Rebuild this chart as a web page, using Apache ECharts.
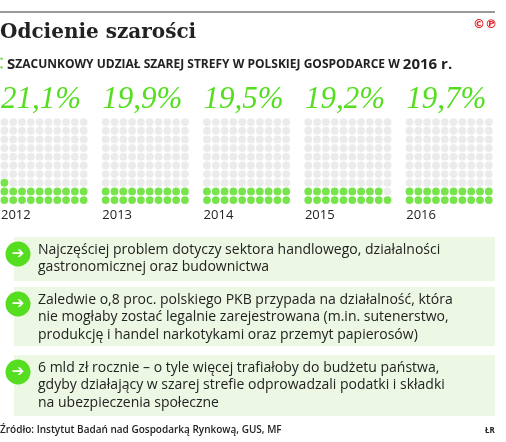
<!doctype html>
<html lang="pl">
<head>
<meta charset="UTF-8">
<title>Odcienie szarości</title>
<script src="https://cdn.jsdelivr.net/npm/echarts@6/dist/echarts.min.js"></script>
<style>
	html,body{margin:0;padding:0;background:#fff;}
	#chart{width:506px;height:442px;}
</style>
</head>
<body>
<div id="chart"></div>
<script>
	// dane
	var years = ['2012', '2013', '2014', '2015', '2016'];
	var shares = ['21,1%', '19,9%', '19,5%', '19,2%', '19,7%'];
	var dots = [21, 20, 20, 19, 20]; // liczba zielonych kropek na 100
	var notes = [
		'Najczęściej problem dotyczy sektora handlowego, działalności\ngastronomicznej oraz budownictwa',
		'Zaledwie o,8 proc. polskiego PKB przypada na działalność, która\nnie mogłaby zostać legalnie zarejestrowana (m.in. sutenerstwo,\nprodukcję i handel narkotykami oraz przemyt papierosów)',
		'6 mld zł rocznie – o tyle więcej trafiałoby do budżetu państwa,\ngdyby działający w szarej strefie odprowadzali podatki i składki\nna ubezpieczenia społeczne'
	];

	var green = '#55dd1f';
	var grey = '#e6e6e6';
	var blockStep = 11.5;

	var greenPts = [], greyPts = [];
	for (var b = 0; b < years.length; b++) {
		for (var i = 0; i < 100; i++) {
			var row = Math.floor(i / 10), col = i % 10;
			var p = [b * blockStep + col, row];
			if (i < dots[b]) greenPts.push(p); else greyPts.push(p);
		}
	}

	var chart = echarts.init(document.getElementById('chart'));
	var graphic = [
		{ type: 'line', shape: { x1: 0, y1: 12, x2: 495, y2: 12 }, style: { stroke: '#777', lineWidth: 1.5 } },
		{ type: 'text', left: 0, top: 23, style: { text: 'Odcienie szarości', font: 'bold 20px "DejaVu Serif", serif', fill: '#222' } },
		{ type: 'text', left: 473, top: 19, style: { text: '©℗', font: 'bold 12px "DejaVu Sans"', fill: '#e0262b' } },
		{ type: 'text', left: 0, top: 57, style: { text: '⁚', font: 'bold 14px sans-serif', fill: green } },
		{ type: 'text', left: 7, top: 57, style: {
			text: '{a|S}{b|ZACUNKOWY UDZIAŁ SZAREJ STREFY W POLSKIEJ GOSPODARCE W }{a|2016 r.}',
			rich: {
				a: { font: 'bold 15px "Open Sans"', fill: '#222' },
				b: { font: 'bold 12px "Open Sans"', fill: '#222' }
			}
		} }
	];
	years.forEach(function (y, b) {
		var x0 = 4 + b * 101.3;
		graphic.push({ type: 'text', left: x0 - 3, top: 84, style: { text: shares[b], font: 'italic 31px "Liberation Serif", serif', fill: green } });
		graphic.push({ type: 'text', left: x0 - 3, top: 209, style: { text: y, font: '13px "Open Sans"', fill: '#222' } });
	});
	var boxes = [[237, 44, 254], [287, 59, 304], [355, 61, 372]];
	boxes.forEach(function (bx, k) {
		graphic.push({ type: 'rect', shape: { x: 14, y: bx[0], width: 481, height: bx[1] }, style: { fill: '#edf8e4' } });
		graphic.push({ type: 'circle', shape: { cx: 18, cy: bx[2], r: 12.5 }, style: { fill: green } });
		graphic.push({ type: 'text', x: 18, y: bx[2], style: { text: '➔', font: 'bold 15px "DejaVu Sans"', fill: '#fff', align: 'center', verticalAlign: 'middle' } });
		graphic.push({ type: 'text', left: 38, top: bx[0] + 4, style: { text: notes[k], font: '14px "Open Sans"', lineHeight: 17.5, fill: '#222' } });
	});
	graphic.push({ type: 'text', left: 0, top: 425, style: { text: 'Źródło: Instytut Badań nad Gospodarką Rynkową, GUS, MF', font: '600 10px "Open Sans"', fill: '#222' } });
	graphic.push({ type: 'text', left: 485, top: 427, style: { text: 'ŁR', font: 'bold 8px "Open Sans"', fill: '#222' } });

	var option = {
		animation: false,
		grid: { left: 0, width: 502, top: 117.7, height: 86.7 },
		xAxis: { type: 'value', min: -0.5, max: 56.5, show: false },
		yAxis: { type: 'value', min: -0.5, max: 9.5, show: false },
		graphic: graphic,
		series: [
			{ type: 'scatter', data: greyPts, symbolSize: 7.8, itemStyle: { color: grey }, silent: true },
			{ type: 'scatter', data: greenPts, symbolSize: 7.8, itemStyle: { color: green }, silent: true }
		]
	};
	chart.setOption(option);
</script>
</body>
</html>
